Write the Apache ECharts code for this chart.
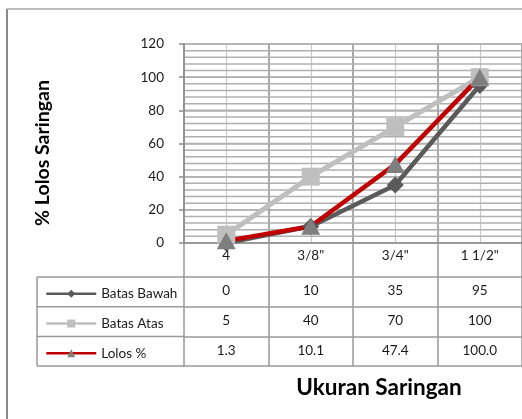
<!DOCTYPE html>
<html>
<head>
<meta charset="utf-8">
<script src="https://cdn.jsdelivr.net/npm/echarts@6/dist/echarts.min.js"></script>
<style>
  html, body { margin: 0; padding: 0; background: #fff; }
  #chart { width: 522px; height: 419px; }
</style>
</head>
<body>
<div id="chart"></div>
<script>
// Sieve sizes and passing percentages
const categories = ['4', '3/8"', '3/4"', '1 1/2"'];
const batasBawah = [0, 10, 35, 95];
const batasAtas = [5, 40, 70, 100];
const lolos = [1.3, 10.1, 47.4, 100.0];
const yMin = 0, yMax = 120, yStep = 20, yMinorStep = 4;

const FONT = 'Lato, "Open Sans", sans-serif';
const PLOT = { left: 184, top: 44, width: 341.3, height: 199 };
const HEAD_H = 34;      // category-label row of the data table
const ROW_H = 29.7;     // one data row of the table
const LEG_LEFT = 37;    // left edge of the legend column
const LEG_ICON_H = 10;
const tableTop = PLOT.top + PLOT.height;
const rowsTop = tableTop + HEAD_H;

const gridDark = '#8c8c8c';
const gridLight = '#b0b0b0';
const tableLine = '#999999';
const textCol = '#1a1a1a';

const rows = [
  { name: 'Batas Bawah', values: batasBawah, fmt: v => String(v) },
  { name: 'Batas Atas', values: batasAtas, fmt: v => String(v) },
  { name: 'Lolos %', values: lolos, fmt: v => v.toFixed(1) }
];

const chart = echarts.init(document.getElementById('chart'), null, { renderer: 'canvas' });

// main category axis: labels row plus the category boundary grid lines
const xAxes = [{
  type: 'category',
  data: categories,
  position: 'bottom',
  boundaryGap: true,
  axisLine: { show: true, onZero: false, lineStyle: { color: gridDark, width: 1.5 } },
  axisTick: { show: true, interval: 0, length: HEAD_H, lineStyle: { color: tableLine, width: 1.5 } },
  axisLabel: { interval: 0, margin: 6, fontFamily: FONT, fontSize: 13.5, color: textCol },
  splitLine: { show: true, interval: 0, lineStyle: { color: gridDark, width: 1.5 } }
}];

// one axis per data-table row: its line is the row's top border,
// its ticks are the cell separators and its labels are the values
rows.forEach((r, i) => {
  xAxes.push({
    type: 'category',
    data: categories,
    position: 'bottom',
    offset: HEAD_H + i * ROW_H,
    boundaryGap: true,
    axisLine: { show: true, onZero: false, lineStyle: { color: tableLine, width: 1.5 } },
    axisTick: { show: true, interval: 0, length: ROW_H, lineStyle: { color: tableLine, width: 1.5 } },
    axisLabel: {
      interval: 0, margin: 7, fontFamily: FONT, fontSize: 13.5, color: textCol,
      formatter: (v, idx) => r.fmt(r.values[idx])
    },
    splitLine: { show: false }
  });
});
// bottom border of the table
xAxes.push({
  type: 'category',
  data: categories,
  position: 'bottom',
  offset: HEAD_H + rows.length * ROW_H,
  axisLine: { show: true, onZero: false, lineStyle: { color: tableLine, width: 1.5 } },
  axisTick: { show: false },
  axisLabel: { show: false },
  splitLine: { show: false }
});

// lighter vertical lines through the category centres
const centreMarks = categories.map(c => ({ xAxis: c }));

const staticLines = [
  { type: 'line', shape: { x1: 7, y1: 9, x2: 522, y2: 9 }, style: { stroke: '#a6a6a6', lineWidth: 1.5 } },
  { type: 'line', shape: { x1: 7, y1: 9, x2: 7, y2: 419 }, style: { stroke: '#8c8c8c', lineWidth: 2 } }
];
for (let i = 0; i <= rows.length; i++) {
  staticLines.push({
    type: 'line',
    shape: { x1: LEG_LEFT, y1: rowsTop + i * ROW_H, x2: PLOT.left, y2: rowsTop + i * ROW_H },
    style: { stroke: tableLine, lineWidth: 1.5 }
  });
}
staticLines.push({
  type: 'line',
  shape: { x1: LEG_LEFT, y1: rowsTop, x2: LEG_LEFT, y2: rowsTop + rows.length * ROW_H },
  style: { stroke: tableLine, lineWidth: 1.5 }
});

// one legend per table row, centred in its row
const legends = rows.map((r, i) => ({
  orient: 'vertical',
  left: LEG_LEFT + 8,
  top: rowsTop + i * ROW_H + ROW_H / 2 - LEG_ICON_H / 2,
  padding: 0,
  itemWidth: 50,
  itemHeight: LEG_ICON_H,
  selectedMode: false,
  textStyle: { fontFamily: FONT, fontSize: 13.5, color: textCol, lineHeight: LEG_ICON_H },
  data: [{ name: r.name, lineStyle: { width: 2.5 } }]
}));

const titles = [
  {
    type: 'text',
    x: 43, y: 153,
    rotation: Math.PI / 2,
    style: {
      text: '% Lolos Saringan',
      font: 'bold 19.5px ' + FONT,
      fill: '#000',
      align: 'center',
      verticalAlign: 'middle'
    }
  },
  {
    type: 'text',
    x: 379, y: 388,
    style: {
      text: 'Ukuran Saringan',
      font: 'bold 22.5px ' + FONT,
      fill: '#000',
      align: 'center',
      verticalAlign: 'middle'
    }
  }
];

const option = {
  animation: false,
  backgroundColor: '#ffffff',
  grid: { left: PLOT.left, top: PLOT.top, width: PLOT.width, height: PLOT.height, containLabel: false },
  xAxis: xAxes,
  yAxis: {
    type: 'value',
    min: yMin, max: yMax, interval: yStep,
    axisLine: { show: true, lineStyle: { color: gridDark, width: 1.5 } },
    axisTick: { show: true, length: 5, lineStyle: { color: gridDark, width: 1.5 } },
    axisLabel: { margin: 20, fontFamily: FONT, fontSize: 13.5, color: textCol },
    splitLine: { show: true, lineStyle: { color: gridLight, width: 1.5 } }
  },
  legend: legends,
  series: [{
    name: 'Batas Bawah',
    type: 'line',
    data: batasBawah,
    symbol: 'diamond',
    symbolSize: 17,
    itemStyle: { color: '#5a5a5a' },
    lineStyle: { color: '#5a5a5a', width: 4.5 },
    markLine: {
      silent: true,
      symbol: 'none',
      animation: false,
      label: { show: false },
      emphasis: { disabled: true },
      z: 0,
      lineStyle: { type: 'solid', color: '#c8c8c8', width: 1.2 },
      data: centreMarks
    }
  }, {
    name: 'Batas Atas',
    type: 'line',
    data: batasAtas,
    symbol: 'rect',
    symbolSize: 18,
    itemStyle: { color: '#bfbfbf' },
    lineStyle: { color: '#bfbfbf', width: 5 }
  }, {
    name: 'Lolos %',
    type: 'line',
    data: lolos,
    symbol: 'triangle',
    symbolSize: [19, 17],
    itemStyle: { color: '#7f7f7f' },
    lineStyle: { color: '#c00000', width: 4.5 }
  }],
  graphic: [...staticLines, ...titles]
};

chart.setOption(option);

// fine horizontal grid, positioned through the value axis scale
const fineGrid = [];
for (let v = yMin + yMinorStep; v <= yMax; v += yMinorStep) {
  const y = chart.convertToPixel({ yAxisIndex: 0 }, v);
  fineGrid.push({
    type: 'line',
    silent: true,
    shape: { x1: PLOT.left, y1: y, x2: PLOT.left + PLOT.width, y2: y },
    style: { stroke: gridLight, lineWidth: 1.5 }
  });
}
chart.setOption({ graphic: [...staticLines, ...titles, ...fineGrid] }, { replaceMerge: ['graphic'] });
</script>
</body>
</html>
